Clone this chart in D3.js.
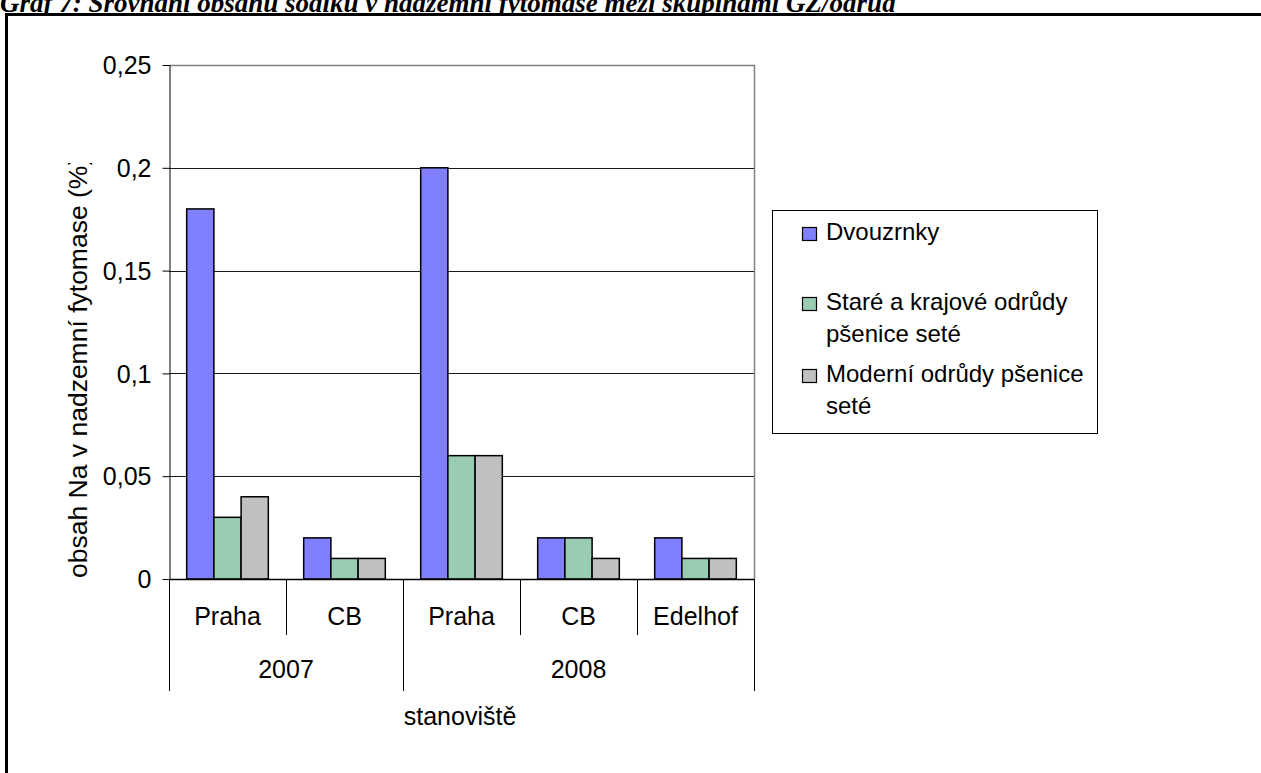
<!DOCTYPE html>
<html>
<head>
<meta charset="utf-8">
<script src="https://cdn.jsdelivr.net/npm/d3@7"></script>
<style>
  html, body { margin: 0; padding: 0; background: #fff; }
  svg { display: block; }
  text { font-family: "Liberation Sans", Arial, sans-serif; fill: #000; }
</style>
</head>
<body>
<svg id="chart" width="1261" height="773"></svg>
<script>
// Sodium content (%) in above-ground biomass by site, year and wheat group
const sites = ["Praha", "CB", "Praha", "CB", "Edelhof"];
const years = ["2007", "2008"];
const sitesPerYear = [2, 3];
const seriesNames = ["Dvouzrnky", "Staré a krajové odrůdy pšenice seté", "Moderní odrůdy pšenice seté"];
const legendLines = [["Dvouzrnky"], ["Staré a krajové odrůdy", "pšenice seté"], ["Moderní odrůdy pšenice", "seté"]];
const dvouzrnky = [0.18, 0.02, 0.20, 0.02, 0.02];
const stare = [0.03, 0.01, 0.06, 0.02, 0.01];
const moderni = [0.04, 0.01, 0.06, 0.01, 0.01];
const yTicks = [0, 0.05, 0.1, 0.15, 0.2, 0.25];
const yTickLabels = ["0", "0,05", "0,1", "0,15", "0,2", "0,25"];
const colors = ["#8080FF", "#99CCB3", "#C0C0C0"];

const titleText = "Graf 7: Srovnání obsahu sodíku v nadzemní fytomase mezi skupinami GZ/odrůd";
const yTitle = "obsah Na v nadzemní fytomase (%)";
const xTitle = "stanoviště";

const FONT = "25px";
const svg = d3.select("#chart");

// Document heading (partly above the page top)
svg.append("text")
  .attr("x", 0).attr("y", 12)
  .style("font-family", "'Liberation Serif', 'Times New Roman', serif")
  .style("font-weight", "bold").style("font-style", "italic")
  .style("font-size", "27px")
  .text(titleText);

// Outer chart frame
svg.append("rect")
  .attr("x", 6.5).attr("y", 14.5).attr("width", 1300).attr("height", 900)
  .attr("fill", "#fff").attr("stroke", "#000").attr("stroke-width", 3);

const plot = { left: 169, right: 754, top: 65, bottom: 579 };

const x = d3.scaleBand().domain(d3.range(sites.length)).range([plot.left, plot.right]).padding(0);
const bw = x.bandwidth();
// 130% gap width between clusters
const gapShare = 0.65 / 4.3;
const inner = d3.scaleBand().domain(d3.range(seriesNames.length))
  .range([bw * gapShare, bw - bw * gapShare]).padding(0);
const y = d3.scaleLinear().domain([0, 0.25]).range([plot.bottom, plot.top]);

// Gridlines
svg.append("g").selectAll("line").data(yTicks.slice(1)).join("line")
  .attr("x1", plot.left).attr("x2", plot.right)
  .attr("y1", d => Math.round(y(d)) + 0.5).attr("y2", d => Math.round(y(d)) + 0.5)
  .attr("stroke", "#1a1a1a").attr("stroke-width", 1);

// Plot area border (top/right)
svg.append("path")
  .attr("d", `M${plot.left},${plot.top + 0.5}H${plot.right + 0.5}V${plot.bottom}`)
  .attr("fill", "none").attr("stroke", "#808080").attr("stroke-width", 1.5);

// Bars
const seriesValues = [dvouzrnky, stare, moderni];
seriesValues.forEach((vals, si) => {
  svg.append("g").selectAll("rect").data(vals).join("rect")
    .attr("x", (d, i) => x(i) + inner(si))
    .attr("y", d => y(d))
    .attr("width", inner.bandwidth())
    .attr("height", d => y(0) - y(d))
    .attr("fill", colors[si])
    .attr("stroke", "#000").attr("stroke-width", 1.5);
});

// Y axis
const yAxis = d3.axisLeft(y).tickValues(yTicks).tickSize(7).tickSizeOuter(0)
  .tickFormat((d, i) => yTickLabels[i]);
const gy = svg.append("g").attr("transform", `translate(${plot.left + 0.5},0)`).call(yAxis);
gy.select(".domain").attr("stroke", "#000");
gy.selectAll(".tick line").attr("stroke", "#000");
gy.selectAll(".tick text").attr("x", -18).attr("dy", "0.35em")
  .style("font-size", FONT).style("font-family", "'Liberation Sans', Arial, sans-serif");

// X axis baseline
svg.append("line")
  .attr("x1", plot.left).attr("x2", plot.right + 0.5)
  .attr("y1", plot.bottom + 0.5).attr("y2", plot.bottom + 0.5)
  .attr("stroke", "#000").attr("stroke-width", 1.5);

// Site-level separators
const siteBounds = d3.range(sites.length + 1).map(i => i < sites.length ? x(i) : plot.right);
svg.append("g").selectAll("line").data(siteBounds).join("line")
  .attr("x1", d => Math.round(d) + 0.5).attr("x2", d => Math.round(d) + 0.5)
  .attr("y1", plot.bottom).attr("y2", plot.bottom + 56)
  .attr("stroke", "#000").attr("stroke-width", 1);

// Site labels
svg.append("g").selectAll("text").data(sites).join("text")
  .attr("x", (d, i) => x(i) + bw / 2).attr("y", plot.bottom + 46)
  .attr("text-anchor", "middle").style("font-size", FONT)
  .text(d => d);

// Year groups
const yearStarts = d3.cumsum([0, ...sitesPerYear]);
const yearBounds = yearStarts.map(i => i < sites.length ? x(i) : plot.right);
svg.append("g").selectAll("line").data(yearBounds).join("line")
  .attr("x1", d => Math.round(d) + 0.5).attr("x2", d => Math.round(d) + 0.5)
  .attr("y1", plot.bottom).attr("y2", plot.bottom + 112)
  .attr("stroke", "#000").attr("stroke-width", 1);
svg.append("g").selectAll("text").data(years).join("text")
  .attr("x", (d, i) => (yearBounds[i] + yearBounds[i + 1]) / 2).attr("y", plot.bottom + 99)
  .attr("text-anchor", "middle").style("font-size", FONT)
  .text(d => d);

// Axis titles
svg.append("text")
  .attr("x", 460).attr("y", 725)
  .attr("text-anchor", "middle").style("font-size", FONT)
  .text(xTitle);

// Y title is clipped at the top of its slot
svg.append("clipPath").attr("id", "ytclip")
  .append("rect").attr("x", 0).attr("y", 163).attr("width", 160).attr("height", 500);
svg.append("g").attr("clip-path", "url(#ytclip)")
  .append("text")
  .attr("transform", "translate(87,578) rotate(-90)")
  .attr("text-anchor", "start").style("font-size", "26.5px")
  .text(yTitle);

// Legend
const lg = svg.append("g");
lg.append("rect").attr("x", 772.5).attr("y", 210.5).attr("width", 325).attr("height", 223)
  .attr("fill", "#fff").attr("stroke", "#000").attr("stroke-width", 1);
const legendBaseline = [240, 310, 382];
legendLines.forEach((lines, i) => {
  lg.append("rect").attr("x", 802.5).attr("y", legendBaseline[i] - 12.5).attr("width", 14).attr("height", 13)
    .attr("fill", colors[i]).attr("stroke", "#000").attr("stroke-width", 1.2);
  lines.forEach((t, j) => {
    lg.append("text").attr("x", 826).attr("y", legendBaseline[i] + j * 32)
      .style("font-size", "24px").text(t);
  });
});
</script>
</body>
</html>
